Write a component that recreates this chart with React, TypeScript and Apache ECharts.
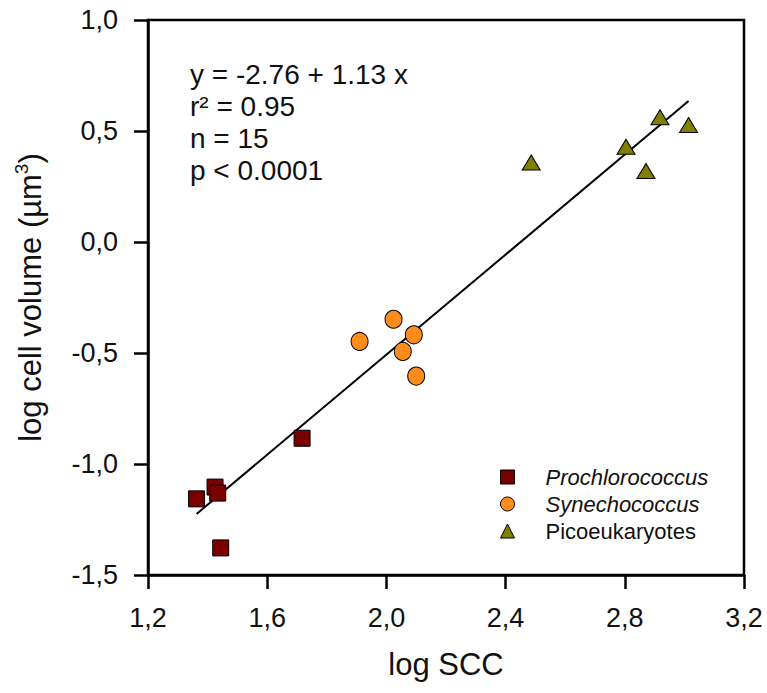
import React, { useEffect, useRef } from "react";
import * as echarts from "echarts";

const prochloroX = [1.363, 1.425, 1.434, 1.444, 1.717];
const prochloroY = [-1.157, -1.104, -1.131, -1.378, -0.884];
const synechoX = [1.91, 2.024, 2.092, 2.055, 2.1];
const synechoY = [-0.448, -0.348, -0.418, -0.493, -0.604];
const picoX = [2.486, 2.804, 2.918, 2.871, 3.014];
const picoY = [0.358, 0.429, 0.562, 0.32, 0.527];
const fitX = [1.363, 3.014];
const fitY = [-1.225, 0.635];
const seriesNames = ["Prochlorococcus", "Synechococcus", "Picoeukaryotes"];
const statLines = ["y = -2.76 + 1.13 x", "r\u00b2 = 0.95", "n = 15", "p < 0.0001"];

const FONT = "'Liberation Sans', Arial, sans-serif";

const zip = (xs: number[], ys: number[]) => xs.map((x, i) => [x, ys[i]]);
const fmt = (v: number) => v.toFixed(1).replace(".", ",");

export default function App() {
  const ref = useRef<HTMLDivElement>(null);
  useEffect(() => {
    const chart = echarts.init(ref.current!, null, { renderer: "svg" });
    const axisCommon = {
      axisLine: { show: true, onZero: false, lineStyle: { color: "#000", width: 2.5 } },
      axisTick: { show: true, inside: false, length: 14, lineStyle: { color: "#000", width: 2.5 } },
      splitLine: { show: false },
    };
    chart.setOption({
      animation: false,
      backgroundColor: "#fff",
      grid: {
        left: 148,
        right: 23,
        top: 20,
        bottom: 118,
        show: true,
        borderColor: "#000",
        borderWidth: 2.5,
      },
      xAxis: {
        type: "value",
        min: 1.2,
        max: 3.2,
        interval: 0.4,
        ...axisCommon,
        axisLabel: {
          formatter: fmt,
          fontSize: 27,
          color: "#111",
          fontFamily: FONT,
          margin: 29,
        },
        name: "log SCC",
        nameLocation: "middle",
        nameGap: 74,
        nameTextStyle: { fontSize: 31, color: "#111", fontFamily: FONT },
      },
      yAxis: {
        type: "value",
        min: -1.5,
        max: 1.0,
        interval: 0.5,
        ...axisCommon,
        axisLabel: {
          formatter: fmt,
          fontSize: 27,
          color: "#111",
          fontFamily: FONT,
          margin: 30,
        },
        name: "{a|log cell volume (\u00b5m}{s|3}{a|)}",
        nameLocation: "middle",
        nameGap: 100,
        nameTextStyle: {
          color: "#111",
          fontFamily: FONT,
          rich: {
            a: { fontSize: 31, lineHeight: 36, fontFamily: FONT, color: "#111" },
            s: { fontSize: 19, lineHeight: 20, verticalAlign: "top", fontFamily: FONT, color: "#111" },
          },
        },
      },
      legend: {
        orient: "vertical",
        left: 500,
        top: 466,
        padding: 0,
        itemWidth: 14,
        itemHeight: 14,
        itemGap: 5,
        selectedMode: false,
        itemStyle: { borderColor: "#000", borderWidth: 1 },
        textStyle: {
          fontSize: 22,
          lineHeight: 22,
          color: "#111",
          fontFamily: FONT,
          padding: [0, 0, 0, 26],
        },
        data: [
          { name: seriesNames[0], icon: "rect", textStyle: { fontStyle: "italic" } },
          { name: seriesNames[1], icon: "circle", textStyle: { fontStyle: "italic" } },
          { name: seriesNames[2], icon: "triangle" },
        ],
      },
      graphic: [
        {
          type: "text",
          left: 190,
          top: 58,
          style: {
            text: statLines.join("\n"),
            fontSize: 28,
            lineHeight: 32,
            fontFamily: FONT,
            fill: "#111",
          },
        },
      ],
      series: [
        {
          type: "line",
          data: zip(fitX, fitY),
          showSymbol: false,
          symbol: "none",
          lineStyle: { color: "#000", width: 2 },
          z: 1,
          silent: true,
        },
        {
          name: seriesNames[0],
          type: "scatter",
          data: zip(prochloroX, prochloroY),
          symbol: "rect",
          symbolSize: 16,
          itemStyle: { color: "#7A0000", borderColor: "#000", borderWidth: 1, opacity: 1 },
          z: 3,
        },
        {
          name: seriesNames[1],
          type: "scatter",
          data: zip(synechoX, synechoY),
          symbol: "circle",
          symbolSize: [17, 18],
          itemStyle: { color: "#FF8C1A", borderColor: "#000", borderWidth: 1, opacity: 1 },
          z: 3,
        },
        {
          name: seriesNames[2],
          type: "scatter",
          data: zip(picoX, picoY),
          symbol: "triangle",
          symbolSize: [18, 15],
          itemStyle: { color: "#808000", borderColor: "#000", borderWidth: 1, opacity: 1 },
          z: 3,
        },
      ],
    });
    return () => chart.dispose();
  }, []);
  return (
    <div
      ref={ref}
      style={{ position: "fixed", left: 0, top: 0, width: 767, height: 693, background: "#fff" }}
    />
  );
}
